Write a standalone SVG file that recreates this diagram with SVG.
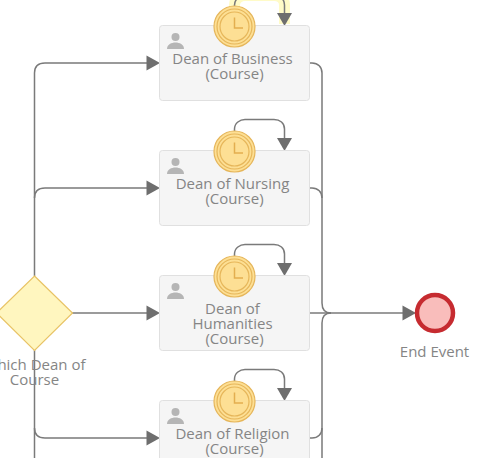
<svg xmlns="http://www.w3.org/2000/svg" width="493" height="458" viewBox="0 0 493 458">
<style>
text{font-family:"Open Sans","Noto Sans",sans-serif;font-size:15px;fill:#858585;text-anchor:middle}
.task{fill:#f5f5f5;stroke:#e0e0e0;stroke-width:1}
.flow{fill:none;stroke:#7a7a7a;stroke-width:1.5}
.head{fill:#6e6e6e}
.halo{fill:none;stroke:#fffbc8;stroke-width:11}
.person{fill:#b5b5b5}
.t1{fill:#fddf94;stroke:#e6b65a;stroke-width:1.2}
.t2{fill:none;stroke:#e6b65a;stroke-width:1.2}
.hand{fill:none;stroke:#e3ae4f;stroke-width:1.5}
</style>
<defs>
<g id="person"><circle cx="0" cy="-4" r="4" class="person"/><path d="M-8.500 8C-8.500 3.500 -4 1.500 0 1.500C4 1.500 8.500 3.500 8.500 8Z" class="person"/></g>
<g id="timer"><circle r="20.500" class="t1"/><circle r="17.500" class="t2"/><circle r="14.500" class="t2"/><path d="M0 -9V1.500H8.500" class="hand"/></g>
<path id="ah" d="M0 0L-13.500 -7.500V7.500Z" class="head"/>
<path id="ad" d="M0 0L-7.500 -13H7.500Z" class="head"/>
</defs>
<rect width="493" height="458" fill="#fff"/>
<g id="connectors">
<path class="halo" d="M234.500 8V5C234.500 -1 240 -4.500 245 -4.500H274C280 -4.500 284.500 -1 284.500 5V24"/>
<path class="flow" d="M34.500 276V73C34.500 67 38 63 45 63H147"/>
<path class="flow" d="M34.500 198C34.500 192 38 188 45 188H147"/>
<path class="flow" d="M72 313H147"/>
<path class="flow" d="M34.500 350V458"/>
<path class="flow" d="M34.500 428C34.500 434 38 438 45 438H147"/>
<use href="#ah" x="160" y="63"/><use href="#ah" x="160" y="188"/><use href="#ah" x="160" y="313"/><use href="#ah" x="160" y="438"/>
<path class="flow" d="M309.500 63H312C318 63 322 67 322 73V303C322 309 325 313 331 313"/>
<path class="flow" d="M309.500 188H312C318 188 322 192 322 198"/>
<path class="flow" d="M322 458V323C322 317 325 313 331 313"/>
<path class="flow" d="M309.500 438H312C318 438 322 434 322 428"/>
<path class="flow" d="M309.500 313H403"/>
<use href="#ah" x="416" y="313"/>
<path class="flow" d="M234.500 6V5C234.500 -1 240 -4.500 245 -4.500H274C280 -4.500 284.500 -1 284.500 5V14"/>
<path class="flow" d="M234.500 131V129C234.500 123 240 119.500 245 119.500H274C280 119.500 284.500 123 284.500 129V139"/>
<path class="flow" d="M234.500 256V254C234.500 248 240 244.500 245 244.500H274C280 244.500 284.500 248 284.500 254V264"/>
<path class="flow" d="M234.500 381V379C234.500 373 240 369.500 245 369.500H274C280 369.500 284.500 373 284.500 379V389"/>
<use href="#ad" x="284.500" y="26"/><use href="#ad" x="284.500" y="151"/><use href="#ad" x="284.500" y="276"/><use href="#ad" x="284.500" y="401"/>
</g>
<g id="gateway"><path d="M34.500 276L72.500 313L34.500 350.500L-3.500 313Z" fill="#fff6bf" stroke="#e8c365" stroke-width="1.200"/><text x="34.500" y="370">Which Dean of</text><text x="34.500" y="385">Course</text></g>
<g id="task-business"><rect class="task" x="159.500" y="25.500" width="150" height="75" rx="3"/><use href="#person" x="175.500" y="41"/><text x="232.500" y="63.500">Dean of Business</text><text x="234.500" y="78.500">(Course)</text><use href="#timer" x="234.500" y="26.500"/></g>
<g id="task-nursing"><rect class="task" x="159.500" y="150.500" width="150" height="75" rx="3"/><use href="#person" x="175.500" y="166"/><text x="232.500" y="188.500">Dean of Nursing</text><text x="234.500" y="203.500">(Course)</text><use href="#timer" x="234.500" y="151.500"/></g>
<g id="task-humanities"><rect class="task" x="159.500" y="275.500" width="150" height="75" rx="3"/><use href="#person" x="175.500" y="291"/><text x="232.500" y="313.500">Dean of</text><text x="232.500" y="328.500">Humanities</text><text x="234.500" y="343.500">(Course)</text><use href="#timer" x="234.500" y="276.500"/></g>
<g id="task-religion"><rect class="task" x="159.500" y="400.500" width="150" height="75" rx="3"/><use href="#person" x="175.500" y="416"/><text x="232.500" y="438.500">Dean of Religion</text><text x="234.500" y="453.500">(Course)</text><use href="#timer" x="234.500" y="401.500"/></g>
<g id="end-event"><circle cx="435" cy="313" r="18" fill="#f9bdbb" stroke="#c62b30" stroke-width="4.500"/><text x="434.500" y="357">End Event</text></g>
</svg>
